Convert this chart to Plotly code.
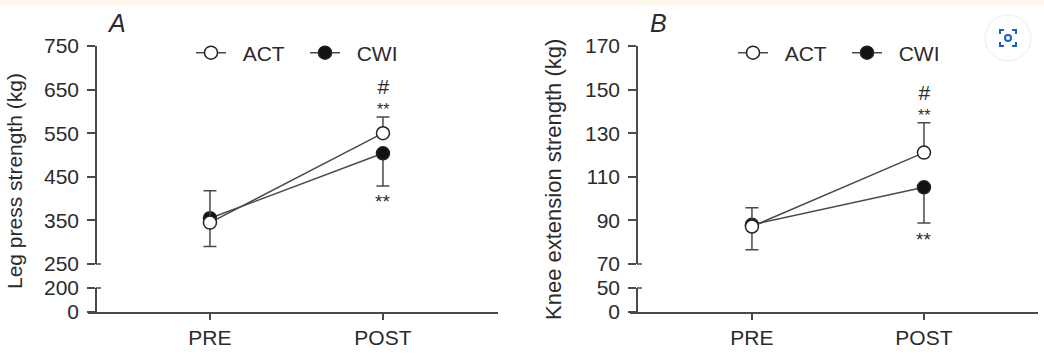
import plotly.graph_objects as go

W, H = 1044, 355

# ---------------- data ----------------
categories = ["PRE", "POST"]

# Panel A: leg press strength (kg)
legpress_act = [345, 550]
legpress_act_err_up = [73, 37]
legpress_cwi = [355, 504]
legpress_cwi_err_down = [65, 75]

# Panel B: knee extension strength (kg)
knee_act = [87.2, 121.1]
knee_act_err_up = [8.6, 13.7]
knee_cwi = [88.0, 105.2]
knee_cwi_err_down = [11.5, 16.4]

legpress_ticks_upper = [250, 350, 450, 550, 650, 750]
legpress_ticks_lower = [0, 200]
knee_ticks_upper = [70, 90, 110, 130, 150, 170]
knee_ticks_lower = [0, 50]

# ---------------- helpers ----------------
def px(x):
    return x / W


def py(y):
    return 1 - y / H


FONT = "Liberation Sans, Arial, sans-serif"
INK = "#2b2b2b"
LINE = "#4a4a4a"
NB = "\u00a0\u00a0"  # gap between legend symbol and label

fig = go.Figure()


def add_series(name, xs, ys, err, up, filled, xa, ya, legend, rank):
    ebar = dict(type="data", symmetric=False, color=LINE, thickness=1.5, width=6.5)
    if up:
        ebar.update(array=err, arrayminus=[0] * len(err))
    else:
        ebar.update(array=[0] * len(err), arrayminus=err)
    fig.add_trace(go.Scatter(
        x=xs, y=ys, name=NB + name, mode="lines+markers",
        line=dict(color=LINE, width=1.5),
        marker=dict(size=13, color="#111111" if filled else "white",
                    line=dict(color="#222222", width=1.5)),
        error_y=ebar, xaxis=xa, yaxis=ya, legend=legend, legendrank=rank,
        cliponaxis=False, hoverinfo="skip",
    ))


# CWI drawn first so open ACT markers sit on top
add_series("CWI", categories, legpress_cwi, legpress_cwi_err_down, False, True, "x", "y", "legend", 2)
add_series("ACT", categories, legpress_act, legpress_act_err_up, True, False, "x", "y", "legend", 1)
add_series("CWI", categories, knee_cwi, knee_cwi_err_down, False, True, "x2", "y3", "legend2", 2)
add_series("ACT", categories, knee_act, knee_act_err_up, True, False, "x2", "y3", "legend2", 1)

# invisible traces so the lower axis segments form subplots
fig.add_trace(go.Scatter(x=categories, y=[None, None], xaxis="x", yaxis="y2", showlegend=False, hoverinfo="skip"))
fig.add_trace(go.Scatter(x=categories, y=[None, None], xaxis="x2", yaxis="y4", showlegend=False, hoverinfo="skip"))

tickfont = dict(family=FONT, size=21, color=INK)
common_y = dict(showline=True, linecolor=LINE, linewidth=1.5, ticks="outside", ticklen=8,
                tickwidth=1.5, tickcolor=LINE, showgrid=False, zeroline=False,
                tickfont=tickfont, anchor="free", ticklabelstandoff=4, fixedrange=True,
                automargin=False)
common_x = dict(type="category", showline=True, linecolor=LINE, linewidth=1.5, ticks="outside",
                ticklen=6, tickwidth=1.5, tickcolor=LINE, showgrid=False, zeroline=False,
                tickfont=tickfont, ticklabelstandoff=0, fixedrange=True, automargin=False)

upper_dom = [py(264), py(46)]
lower_dom = [py(312), py(288)]

legend_common = dict(orientation="h", xanchor="left", yanchor="middle",
                     font=dict(family=FONT, size=21, color=INK), bgcolor="rgba(0,0,0,0)",
                     itemwidth=30, entrywidth=69, entrywidthmode="pixels",
                     itemclick=False, itemdoubleclick=False)

fig.update_layout(
    width=W, height=H,
    margin=dict(l=0, r=0, t=0, b=0, autoexpand=False),
    paper_bgcolor="white", plot_bgcolor="rgba(0,0,0,0)",
    font=dict(family=FONT, color=INK),
    xaxis=dict(domain=[px(88), px(498)], range=[-0.705, 1.665], anchor="y2", **common_x),
    xaxis2=dict(domain=[px(630), px(1038)], range=[-0.709, 1.663], anchor="y4", **common_x),
    yaxis=dict(domain=upper_dom, range=[250, 750], tickvals=legpress_ticks_upper,
               position=px(96), **common_y),
    yaxis2=dict(domain=lower_dom, range=[0, 200], tickvals=legpress_ticks_lower,
                position=px(96), **common_y),
    yaxis3=dict(domain=upper_dom, range=[70, 170], tickvals=knee_ticks_upper,
                position=px(637), **common_y),
    yaxis4=dict(domain=lower_dom, range=[0, 50], tickvals=knee_ticks_lower,
                position=px(637), **common_y),
    legend=dict(x=px(191), y=py(53), **legend_common),
    legend2=dict(x=px(733), y=py(53), **legend_common),
    showlegend=True,
)

# break marks on the split axes (small tick to the right at segment ends)
shapes = []
for xa in (96, 637):
    for yy in (264, 288):
        shapes.append(dict(type="line", xref="paper", yref="paper", x0=px(xa), x1=px(xa + 5),
                           y0=py(yy), y1=py(yy), line=dict(color=LINE, width=1.5)))

# faint page chrome: yellow strip at top
shapes.append(dict(type="rect", xref="paper", yref="paper", x0=0, x1=1, y0=py(5), y1=1,
                   fillcolor="#fdf8ea", line=dict(width=0), layer="below"))
# lens-like icon at top right
shapes.append(dict(type="circle", xref="paper", yref="paper", xsizemode="pixel", ysizemode="pixel",
                   xanchor=px(1008), yanchor=py(38), x0=-23, x1=23, y0=-23, y1=23,
                   fillcolor="white", line=dict(color="#ececec", width=1)))
blue = "#1a5fc8"
cx, cy, s, g = 1008, 38, 8, 4
corner_paths = [
    [(cx - s, cy - s + g), (cx - s, cy - s), (cx - s + g, cy - s)],
    [(cx + s - g, cy - s), (cx + s, cy - s), (cx + s, cy - s + g)],
    [(cx - s, cy + s - g), (cx - s, cy + s), (cx - s + g, cy + s)],
    [(cx + s - g, cy + s), (cx + s, cy + s), (cx + s, cy + s - g)],
]
for pts in corner_paths:
    path = "M " + " L ".join(f"{px(a):.5f},{py(b):.5f}" for a, b in pts)
    shapes.append(dict(type="path", xref="paper", yref="paper", path=path,
                       line=dict(color=blue, width=2)))
shapes.append(dict(type="circle", xref="paper", yref="paper", xsizemode="pixel", ysizemode="pixel",
                   xanchor=px(cx), yanchor=py(cy), x0=-3, x1=3, y0=-3, y1=3,
                   line=dict(color=blue, width=2)))
fig.update_layout(shapes=shapes)

ann = []
paper_txt = dict(xref="paper", yref="paper", xanchor="center", yanchor="middle", showarrow=False)
# panel letters
ann.append(dict(text="<i>A</i>", x=px(116), y=py(23), font=dict(family=FONT, size=25, color=INK), **paper_txt))
ann.append(dict(text="<i>B</i>", x=px(658), y=py(23), font=dict(family=FONT, size=25, color=INK), **paper_txt))
# y titles
ann.append(dict(text="Leg press strength (kg)", x=px(14), y=py(181), textangle=-90,
                font=dict(family=FONT, size=21, color=INK), **paper_txt))
ann.append(dict(text="Knee extension strength (kg)", x=px(553), y=py(180), textangle=-90,
                font=dict(family=FONT, size=22, color=INK), **paper_txt))

# significance markers at POST
for xa, ya, act, act_up, cwi, cwi_dn in (
    ("x", "y", legpress_act, legpress_act_err_up, legpress_cwi, legpress_cwi_err_down),
    ("x2", "y3", knee_act, knee_act_err_up, knee_cwi, knee_cwi_err_down),
):
    top = act[1] + act_up[1]
    bot = cwi[1] - cwi_dn[1]
    ann.append(dict(text="<span style='font-size:21px'>#</span><br>**", x="POST", y=top,
                    xref=xa, yref=ya, showarrow=False, xanchor="center", yanchor="bottom",
                    yshift=-3, font=dict(family=FONT, size=16, color=INK)))
    ann.append(dict(text="**", x="POST", y=bot, xref=xa, yref=ya, showarrow=False,
                    xanchor="center", yanchor="middle", yshift=-16,
                    font=dict(family=FONT, size=19, color=INK)))
fig.update_layout(annotations=ann)

fig.write_html("out.html", config={"displayModeBar": False})
